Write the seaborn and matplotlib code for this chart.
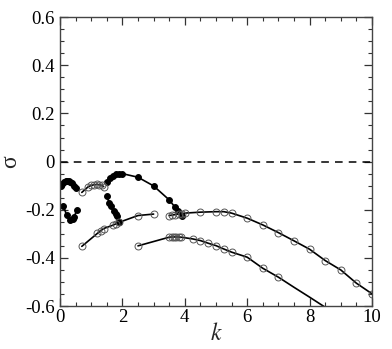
import numpy as np
import pandas as pd
import seaborn as sns
import matplotlib.pyplot as plt
from matplotlib.ticker import MultipleLocator

# filled-circle branches
k1 = [0.03, 0.08, 0.13, 0.18, 0.23, 0.28, 0.33, 0.40, 0.45, 0.52]
s1 = [-0.100, -0.093, -0.085, -0.080, -0.079, -0.081, -0.085, -0.090, -0.100, -0.110]

k2 = [0.11, 0.21, 0.32, 0.43, 0.46, 0.53]
s2 = [-0.183, -0.222, -0.242, -0.240, -0.229, -0.203]

k4 = [1.50, 1.60, 1.69, 1.80, 1.90, 2.00, 2.50, 3.00, 3.50, 3.69, 3.77, 3.90]
s4 = [-0.085, -0.069, -0.058, -0.052, -0.050, -0.050, -0.065, -0.101, -0.159, -0.190, -0.207, -0.225]

k5 = [1.50, 1.57, 1.62, 1.73, 1.80, 1.84, 1.90]
s5 = [-0.142, -0.170, -0.184, -0.207, -0.219, -0.228, -0.250]

# open-circle branches
k3 = [0.70, 0.90, 1.00, 1.10, 1.18, 1.26, 1.34, 1.40]
s3 = [-0.128, -0.105, -0.099, -0.096, -0.095, -0.096, -0.099, -0.104]

k6 = [0.70, 1.20, 1.30, 1.40, 1.70, 1.80, 1.90, 2.50, 3.00]
s6 = [-0.352, -0.298, -0.288, -0.278, -0.264, -0.258, -0.252, -0.224, -0.218]

k7 = [3.50, 3.60, 3.70, 3.80, 3.90, 4.00, 4.50, 5.00, 5.25, 5.50, 6.00, 6.50,
      7.00, 7.50, 8.00, 8.50, 9.00, 9.50, 10.00]
s7 = [-0.224, -0.222, -0.220, -0.218, -0.216, -0.214, -0.210, -0.208, -0.208,
      -0.214, -0.235, -0.263, -0.295, -0.329, -0.364, -0.411, -0.450, -0.505, -0.549]

k8 = [2.50, 3.50, 3.58, 3.65, 3.72, 3.80, 3.88, 4.25, 4.50, 4.75, 5.00, 5.25,
      5.50, 6.00, 6.50, 7.00, 7.50, 8.00, 8.50]
s8 = [-0.350, -0.314, -0.313, -0.313, -0.313, -0.313, -0.314, -0.321, -0.328,
      -0.339, -0.349, -0.363, -0.376, -0.397, -0.443, -0.480, -0.522, -0.563, -0.605]

sns.set_style("ticks")
plt.rcParams['font.family'] = ['Liberation Serif', 'DejaVu Serif']
plt.rcParams['mathtext.fontset'] = 'stix'

fig = plt.figure(figsize=(3.92, 3.49), dpi=100)
ax = fig.add_axes([0.153, 0.123, 0.796, 0.828])

ax.axhline(0, color='black', lw=1.1, ls=(0, (5, 4)))

filled = dict(color='black', lw=1.2, marker='o', ms=4.2, mfc='black', mec='black')
hollow = dict(color='black', lw=1.2, marker='o', ms=5, mfc='none', mec='#555555', mew=0.7)

for kk, ss in [(k1, s1), (k2, s2), (k4, s4), (k5, s5)]:
    sns.lineplot(x=kk, y=ss, ax=ax, sort=False, estimator=None, **filled)
for kk, ss in [(k3, s3), (k6, s6), (k7, s7)]:
    sns.lineplot(x=kk, y=ss, ax=ax, sort=False, estimator=None, **hollow)
sns.lineplot(x=k8, y=s8, ax=ax, sort=False, estimator=None,
             markevery=list(range(16)), **hollow)

ax.set_xlim(0, 10)
ax.set_ylim(-0.6, 0.6)
ax.xaxis.set_major_locator(MultipleLocator(2))
ax.xaxis.set_minor_locator(MultipleLocator(0.5))
ax.yaxis.set_major_locator(MultipleLocator(0.2))
ax.yaxis.set_minor_locator(MultipleLocator(0.05))
ax.set_xticks([0, 2, 4, 6, 8, 10])
ax.set_xticklabels(['0', '2', '4', '6', '8', '10'])
ax.set_yticks([-0.6, -0.4, -0.2, 0, 0.2, 0.4, 0.6])
ax.set_yticklabels(['-0.6', '-0.4', '-0.2', '0', '0.2', '0.4', '0.6'])
ax.tick_params(which='both', direction='in', top=True, right=True,
               labelsize=13.5, colors='#333333', labelcolor='black')
ax.tick_params(which='major', length=6, width=0.9)
ax.tick_params(which='minor', length=3, width=0.8)
ax.tick_params(axis='x', pad=2)
for sp in ax.spines.values():
    sp.set_visible(True)
    sp.set_color('#444444')
    sp.set_linewidth(1.0)

ax.set_xlabel('$k$', fontsize=17, labelpad=-2)
ax.set_ylabel('σ', fontsize=17, labelpad=3)

fig.savefig('out.png', dpi=100)
